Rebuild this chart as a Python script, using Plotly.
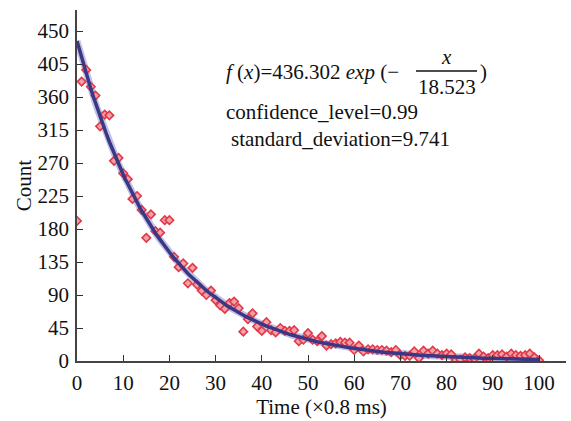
import plotly.graph_objects as go
import math

# ---- data ----
time_x = list(range(0, 101))
counts = [191, 381, 397, 374, 362, 320, 336, 335, 273, 277,
          256, 248, 221, 225, 206, 168, 200, 177, 175, 192,
          192, 142, 128, 133, 106, 127, 104, 96, 90, 96,
          83, 76, 71, 79, 81, 72, 40, 57, 65, 47,
          41, 53, 42, 39, 45, 41, 41, 42, 27, 29,
          38, 29, 27, 34, 21, 23, 24, 26, 25, 25,
          15, 21, 13, 16, 16, 15, 15, 14, 12, 15,
          8, 7, 7, 13, 4, 14, 10, 14, 10, 8,
          10, 9, 1, 2, 5, 4, 3, 10, 6, 4,
          8, 8, 9, 6, 10, 8, 7, 8, 10, 5, 1]

fit_amplitude = 436.302
fit_tau = 18.523
fit_x = [i * 0.5 for i in range(0, 201)]

y_ticks = [0, 45, 90, 135, 180, 225, 270, 315, 360, 405, 450]
x_ticks = [0, 10, 20, 30, 40, 50, 60, 70, 80, 90, 100]

fit_y = [fit_amplitude * math.exp(-v / fit_tau) for v in fit_x]

W, H = 571, 421
ML, MR, MT, MB = 77, 5, 10, 60
PW, PH = W - ML - MR, H - MT - MB


def px(xp):
    return (xp - ML) / PW


def py(yp):
    return 1 - (yp - MT) / PH


FONT = "Liberation Serif"
FS = 21

fig = go.Figure()
fig.add_trace(go.Scatter(x=fit_x, y=fit_y, mode="lines",
                         line=dict(color="rgba(120,120,200,0.45)", width=7),
                         hoverinfo="skip", showlegend=False))
fig.add_trace(go.Scatter(x=time_x, y=counts, mode="markers",
                         marker=dict(symbol="diamond", size=6.5, color="#f3a0a6",
                                     line=dict(color="#e2394a", width=1.6)),
                         showlegend=False))
fig.add_trace(go.Scatter(x=fit_x, y=fit_y, mode="lines",
                         line=dict(color="#3a3886", width=3.5),
                         showlegend=False))

axis_common = dict(showgrid=False, zeroline=False, showline=True,
                   linecolor="#444444", linewidth=1.5, ticks="inside",
                   ticklen=6, tickwidth=1.3, tickcolor="#333333",
                   tickfont=dict(family=FONT, size=FS, color="#111111"),
                   mirror=False, automargin=False)

fig.update_xaxes(range=[0, PW / 4.62], tickvals=x_ticks,
                 title=dict(text="Time (×0.8 ms)", font=dict(family=FONT, size=FS, color="#111111"),
                            standoff=2),
                 ticklabelstandoff=2,
                 **axis_common)
fig.update_yaxes(range=[0, PH / 0.7333], tickvals=y_ticks,
                 title=dict(text="Count", font=dict(family=FONT, size=FS, color="#111111"),
                            standoff=0),
                 ticklabelstandoff=2,
                 **axis_common)

afont = dict(family=FONT, size=FS, color="#111111")
anns = [
    dict(x=px(224), y=py(72), text="<i>f</i> (<i>x</i>)=436.302 <i>exp</i> (−", xanchor="left"),
    dict(x=px(446), y=py(57), text="<i>x</i>", xanchor="center"),
    dict(x=px(447), y=py(87), text="18.523", xanchor="center"),
    dict(x=px(478), y=py(72), text=")", xanchor="left"),
    dict(x=px(224), y=py(112), text="confidence_level=0.99", xanchor="left"),
    dict(x=px(229), y=py(139), text="standard_deviation=9.741", xanchor="left"),
]
for a in anns:
    fig.add_annotation(xref="paper", yref="paper", yanchor="middle", showarrow=False,
                       font=afont, **a)

fig.add_shape(type="line", xref="paper", yref="paper",
              x0=px(416), x1=px(477), y0=py(71), y1=py(71),
              line=dict(color="#111111", width=1.3))

fig.update_layout(width=W, height=H, margin=dict(l=ML, r=MR, t=MT, b=MB),
                  plot_bgcolor="white", paper_bgcolor="white",
                  font=dict(family=FONT))

fig.write_html("out.html", config={"displayModeBar": False},
               post_script="document.body.style.margin='0';document.body.style.overflow='hidden';")
